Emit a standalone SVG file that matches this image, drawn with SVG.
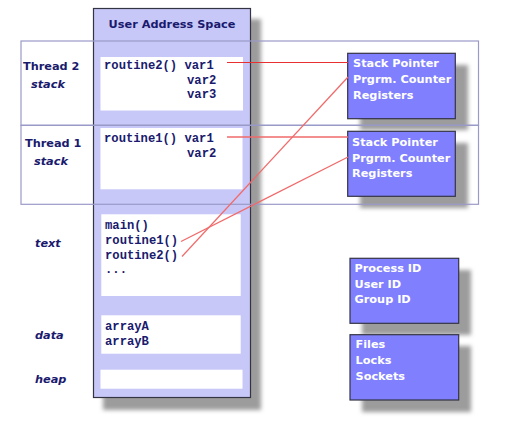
<svg xmlns="http://www.w3.org/2000/svg" width="522" height="429" viewBox="0 0 522 429">
<defs>
<filter id="blur" x="-20%" y="-20%" width="140%" height="140%"><feGaussianBlur stdDeviation="2"/></filter>
<style>
.lbl{font-family:"DejaVu Sans",Verdana,sans-serif;font-weight:bold;font-size:11.3px;fill:#1a1a6e}
.it{font-style:italic}
.code{font-family:"Liberation Mono","Courier New",monospace;font-weight:bold;font-size:12.2px;fill:#1a1a6e}
.wt{font-family:"DejaVu Sans",Verdana,sans-serif;font-weight:bold;font-size:11.3px;fill:#ffffff}
.shadow{fill:#9c9c9c;filter:url(#blur)}
.box{fill:#8080ff;stroke:#333344;stroke-width:1.2}
.white{fill:#ffffff}
.frame{fill:none;stroke:#9a9ac8;stroke-width:1.2}
.red{stroke:#e83030;stroke-width:1;fill:none}
.pink{stroke:#f06a6a;stroke-width:1.3;fill:none}
</style>
</defs>
<rect width="522" height="429" fill="#ffffff"/>
<g id="shadows">
<rect class="shadow" x="103" y="19" width="158" height="391"/>
<rect class="shadow" x="360" y="65" width="108" height="65"/>
<rect class="shadow" x="360" y="143" width="108" height="65"/>
<rect class="shadow" x="362" y="270" width="109" height="65"/>
<rect class="shadow" x="362" y="346" width="109" height="66"/>
</g>
<g id="address-space">
<rect x="93.5" y="8.5" width="157" height="389" fill="#c8c8f8" stroke="#333344" stroke-width="1.2"/>
<text class="lbl" x="172" y="28" text-anchor="middle">User Address Space</text>
</g>
<g id="frame">
<rect class="frame" x="21" y="41" width="457.5" height="84.3"/>
<rect class="frame" x="21" y="125.3" width="457.5" height="79"/>
</g>
<g id="thread2-stack">
<text class="lbl" x="23" y="70">Thread 2</text>
<text class="lbl it" x="31" y="88">stack</text>
<rect class="white" x="100.5" y="57" width="142.5" height="53.5"/>
<text class="code" x="104" y="69">routine2() var1</text>
<text class="code" x="187" y="83.5">var2</text>
<text class="code" x="187" y="98">var3</text>
</g>
<g id="thread1-stack">
<text class="lbl" x="25" y="146.5">Thread 1</text>
<text class="lbl it" x="34" y="165">stack</text>
<rect class="white" x="100.5" y="128" width="142" height="61.3"/>
<text class="code" x="104" y="142">routine1() var1</text>
<text class="code" x="187" y="157">var2</text>
</g>
<g id="text-seg">
<text class="lbl it" x="35" y="246.5">text</text>
<rect class="white" x="101.3" y="214.3" width="139.4" height="81.7"/>
<text class="code" x="105" y="228.5">main()</text>
<text class="code" x="105" y="243.5">routine1()</text>
<text class="code" x="105" y="258.5">routine2()</text>
<text class="code" x="105" y="273">...</text>
</g>
<g id="data-seg">
<text class="lbl it" x="35" y="338.5">data</text>
<rect class="white" x="101.3" y="315.3" width="139.4" height="38.4"/>
<text class="code" x="105" y="330">arrayA</text>
<text class="code" x="105" y="344.5">arrayB</text>
</g>
<g id="heap-seg">
<text class="lbl it" x="35" y="383">heap</text>
<rect class="white" x="100.5" y="369.7" width="142" height="19"/>
</g>
<g id="regs2">
<rect class="box" x="347.7" y="53.3" width="107.6" height="65.4"/>
<text class="wt" x="353" y="67.3">Stack Pointer</text>
<text class="wt" x="353" y="83.3">Prgrm. Counter</text>
<text class="wt" x="353" y="99.3">Registers</text>
</g>
<g id="regs1">
<rect class="box" x="347.7" y="131.3" width="107.6" height="65"/>
<text class="wt" x="352" y="145.7">Stack Pointer</text>
<text class="wt" x="352" y="161.7">Prgrm. Counter</text>
<text class="wt" x="352" y="177.3">Registers</text>
</g>
<g id="ids">
<rect class="box" x="350" y="258.3" width="108.7" height="65"/>
<text class="wt" x="354.5" y="271.7">Process ID</text>
<text class="wt" x="354.5" y="287.5">User ID</text>
<text class="wt" x="354.5" y="303.3">Group ID</text>
</g>
<g id="files">
<rect class="box" x="350" y="334.7" width="108.7" height="65.3"/>
<text class="wt" x="355.5" y="348.3">Files</text>
<text class="wt" x="355.5" y="364">Locks</text>
<text class="wt" x="355.5" y="380">Sockets</text>
</g>
<g id="connectors">
<line class="red" x1="227" y1="62.5" x2="348" y2="62.5"/>
<line class="pink" x1="227" y1="137" x2="348" y2="137"/>
<line class="pink" x1="182" y1="256.5" x2="348" y2="77"/>
<line class="pink" x1="181" y1="241.5" x2="348" y2="157"/>
</g>
</svg>
